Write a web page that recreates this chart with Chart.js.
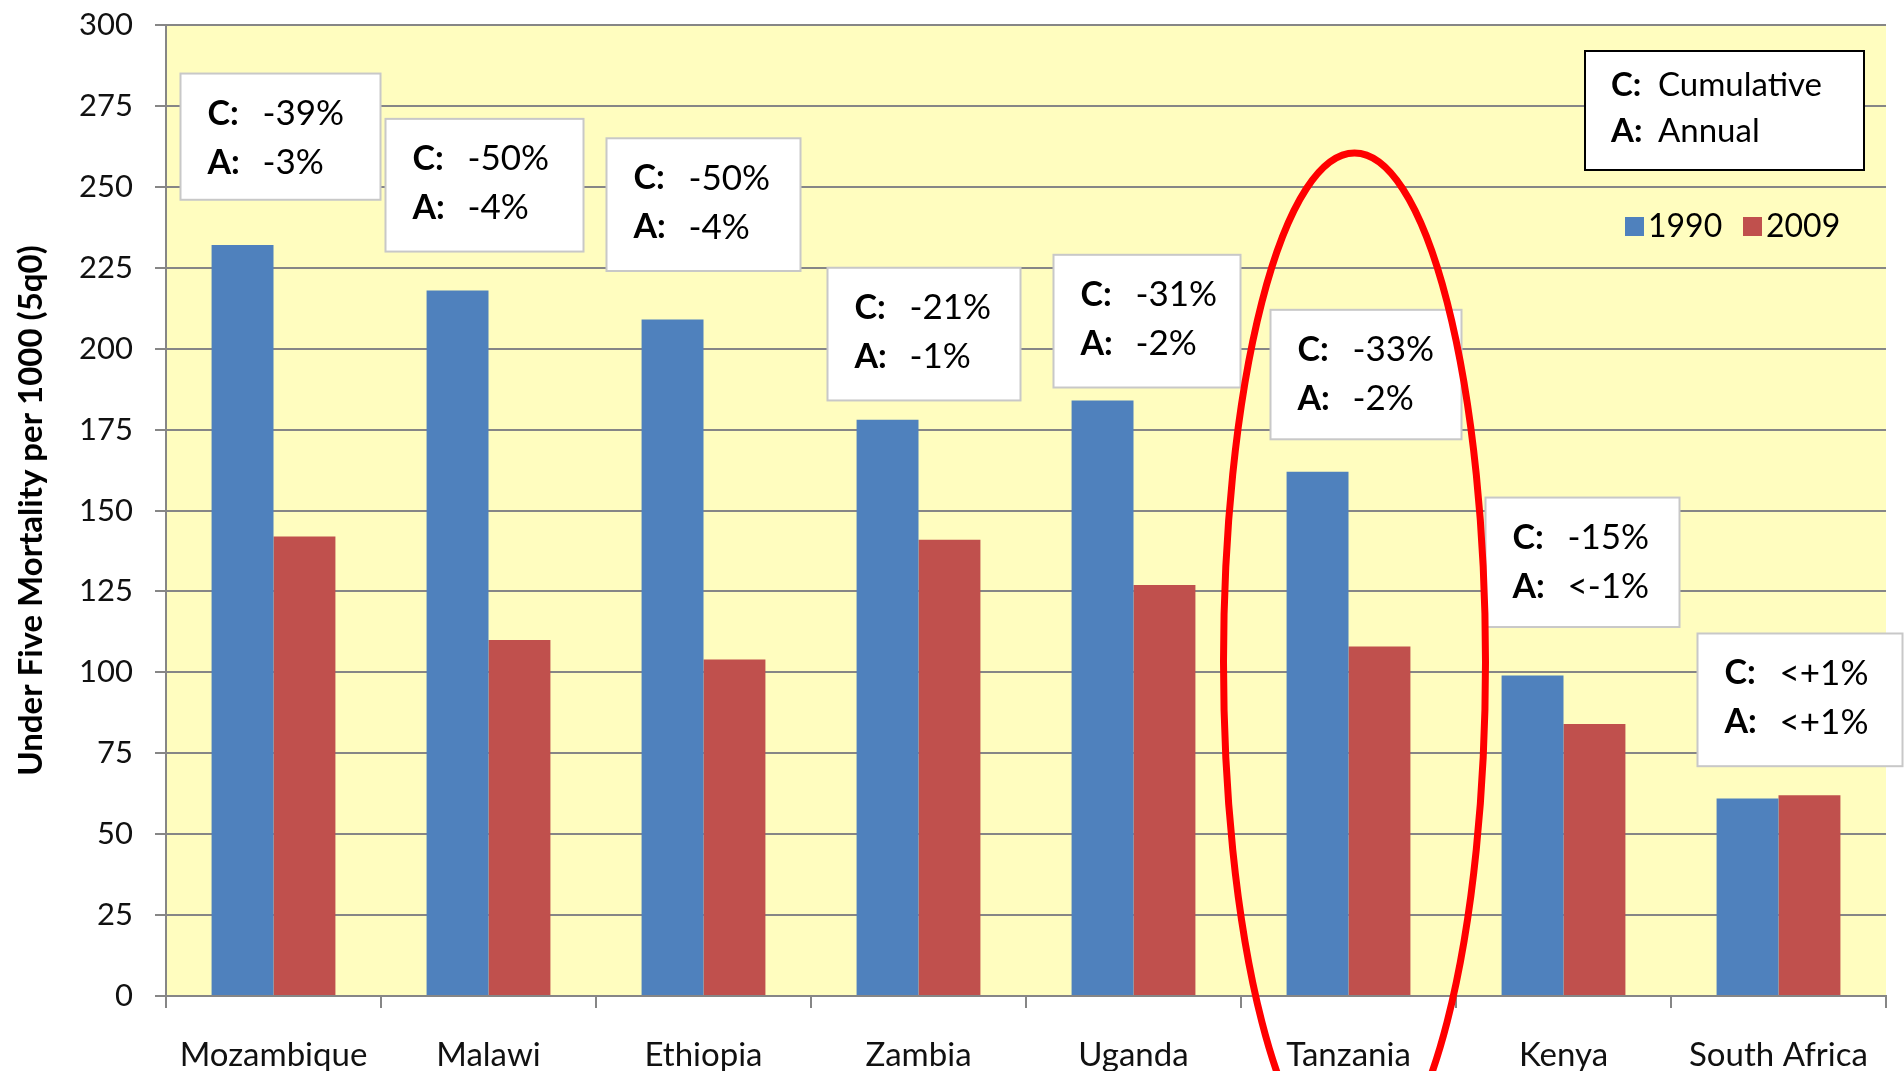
<!DOCTYPE html>
<html>
<head>
<meta charset="utf-8">
<title>Under five mortality</title>
<script src="https://cdn.jsdelivr.net/npm/chart.js@4.4.1/dist/chart.umd.min.js"></script>
<style>
  html, body { margin: 0; padding: 0; background: #fff; }
  #wrap { width: 1904px; height: 1071px; }
</style>
</head>
<body>
<div id="wrap"><canvas id="chart1"></canvas></div>
<script>
// data
const countries = ['Mozambique', 'Malawi', 'Ethiopia', 'Zambia', 'Uganda', 'Tanzania', 'Kenya', 'South Africa'];
const values1990 = [232, 218, 209, 178, 184, 162, 99, 61];
const values2009 = [142, 110, 104, 141, 127, 108, 84, 62];
const cumulative = ['-39%', '-50%', '-50%', '-21%', '-31%', '-33%', '-15%', '<+1%'];
const annual = ['-3%', '-4%', '-4%', '-1%', '-2%', '-2%', '<-1%', '<+1%'];
const yTicks = [0, 25, 50, 75, 100, 125, 150, 175, 200, 225, 250, 275, 300];

// where the note boxes sit: offset from category centre (px) and top/bottom in axis units
const boxLeft = [-93, -103, -97, -91, -80, -78, -78, -81];
const boxRight = [107, 95, 97, 102, 107, 113, 116, 124];
const boxTop = [285, 271, 265, 225, 229, 212, 154, 112];
const boxBottom = [246, 230, 224, 184, 188, 172, 114, 71];

const FONT = 'Lato, "Open Sans", sans-serif';

const notesPlugin = {
    id: 'notes',
    beforeDraw(chart) {
        const { ctx, chartArea } = chart;
        ctx.save();
        ctx.fillStyle = '#FFFDBF';
        ctx.fillRect(chartArea.left, chartArea.top, chartArea.right - chartArea.left, chartArea.bottom - chartArea.top);
        ctx.restore();
    },
    afterDraw(chart) {
        const { ctx } = chart;
        const x = chart.scales.x;
        const y = chart.scales.y;
        ctx.save();

        // C / A boxes
        countries.forEach(function (c, i) {
            const cx = x.getPixelForValue(i);
            const left = cx + boxLeft[i];
            const right = cx + boxRight[i];
            const top = y.getPixelForValue(boxTop[i]);
            const bottom = y.getPixelForValue(boxBottom[i]);
            ctx.fillStyle = '#fff';
            ctx.fillRect(left, top, right - left, bottom - top);
            ctx.strokeStyle = '#c8c8c8';
            ctx.lineWidth = 2;
            ctx.strokeRect(left, top, right - left, bottom - top);

            const tx = left + 27;
            ctx.textBaseline = 'middle';
            ctx.fillStyle = '#000';
            ctx.font = 'bold 34px ' + FONT;
            ctx.fillText('C:', tx, top + 40);
            ctx.fillText('A:', tx, top + 89);
            ctx.font = '35px ' + FONT;
            ctx.fillText(cumulative[i], tx + 55, top + 40);
            ctx.fillText(annual[i], tx + 55, top + 89);
        });

        // key box
        ctx.fillStyle = '#fff';
        ctx.fillRect(1585, 51, 279, 119);
        ctx.strokeStyle = '#000';
        ctx.lineWidth = 2;
        ctx.strokeRect(1585, 51, 279, 119);
        ctx.fillStyle = '#000';
        ctx.textBaseline = 'middle';
        ctx.font = 'bold 33px ' + FONT;
        ctx.fillText('C:', 1611, 85);
        ctx.fillText('A:', 1611, 131);
        ctx.font = '33px ' + FONT;
        ctx.fillText('Cumulative', 1658, 85);
        ctx.fillText('Annual', 1658, 131);

        // legend
        let lx = 1625;
        chart.data.datasets.forEach(function (ds) {
            ctx.fillStyle = ds.backgroundColor;
            ctx.fillRect(lx, 217, 19, 19);
            ctx.fillStyle = '#000';
            ctx.font = '32px ' + FONT;
            ctx.fillText(ds.label, lx + 23, 227);
            lx += 118;
        });

        // red ellipse round Tanzania
        const tz = x.getPixelForValue(5);
        ctx.beginPath();
        ctx.ellipse(tz + 6, 662, 131, 509, 0, 0, Math.PI * 2);
        ctx.strokeStyle = '#ff0000';
        ctx.lineWidth = 7;
        ctx.stroke();
        ctx.restore();
    }
};

const ctx = document.getElementById('chart1').getContext('2d');
const chart = new Chart(ctx, {
    type: 'bar',
    data: {
        labels: countries,
        datasets: [
            { label: '1990', data: values1990, backgroundColor: '#4F81BD' },
            { label: '2009', data: values2009, backgroundColor: '#C0504D' }
        ]
    },
    options: {
        responsive: true,
        maintainAspectRatio: false,
        animation: false,
        layout: { padding: { top: 25, right: 18, left: 12, bottom: 0 } },
        datasets: { bar: { categoryPercentage: 0.576, barPercentage: 1.0 } },
        plugins: {
            legend: { display: false },
            tooltip: { enabled: false }
        },
        scales: {
            x: {
                grid: { offset: true, drawOnChartArea: false, drawTicks: true, tickLength: 12, color: '#868686', lineWidth: 2 },
                border: { color: '#868686', width: 2 },
                ticks: { color: '#111', font: { family: FONT, size: 33 }, padding: 28, maxRotation: 0 },
                afterFit(scale) { scale.height = 75; }
            },
            y: {
                min: 0,
                max: 300,
                afterBuildTicks(scale) { scale.ticks = yTicks.map(v => ({ value: v })); },
                grid: { color: '#868686', lineWidth: 2, tickLength: 11 },
                border: { color: '#868686', width: 2 },
                ticks: { color: '#111', font: { family: FONT, size: 31 }, padding: 22 },
                title: {
                    display: true,
                    text: 'Under Five Mortality per 1000 (5q0)',
                    color: '#000',
                    font: { family: FONT, size: 33, weight: 'bold' },
                    padding: { top: 0, bottom: 0 }
                },
                afterFit(scale) {
                    scale.width = 154;
                    // tick padding otherwise pushes the plot top down
                    scale.paddingTop = 0;
                    scale.paddingBottom = 0;
                }
            }
        }
    },
    plugins: [notesPlugin]
});
</script>
</body>
</html>
